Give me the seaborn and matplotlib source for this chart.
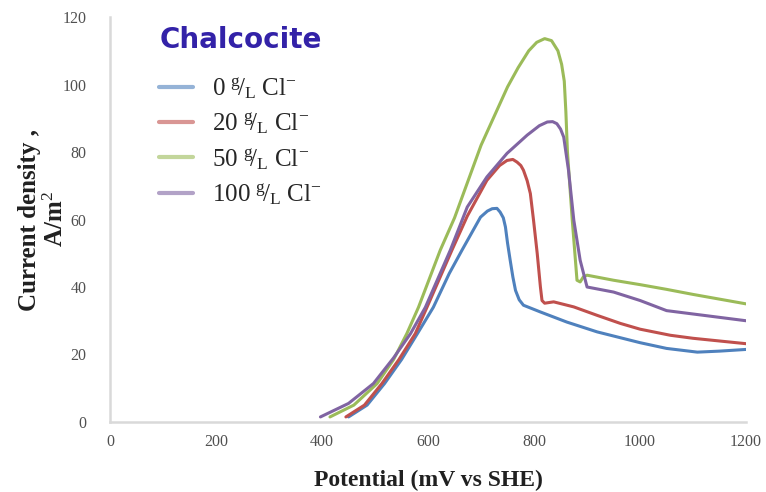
import numpy as np
import pandas as pd
import matplotlib
matplotlib.use("Agg")
import matplotlib.pyplot as plt
import seaborn as sns

labels = [r"0 $^{g}\!/_{L}$ Cl$^{-}$", r"20 $^{g}\!/_{L}$ Cl$^{-}$",
          r"50 $^{g}\!/_{L}$ Cl$^{-}$", r"100 $^{g}\!/_{L}$ Cl$^{-}$"]

x_0 = [450, 485, 518, 550, 580, 610, 640, 664, 699, 712, 721, 730, 736, 742, 746, 750, 755, 760, 765, 772, 780, 812, 862, 919, 1000, 1050, 1108, 1150, 1200]
y_0 = [1.5, 5, 11.4, 18.5, 26.2, 34, 44, 50.9, 60.7, 62.5, 63.2, 63.3, 62.2, 60.5, 57.8, 53, 47.9, 43, 39, 36.2, 34.6, 32.6, 29.6, 26.7, 23.5, 21.8, 20.7, 21, 21.5]

x_20 = [445, 480, 513, 545, 576, 598, 645, 674, 711, 735, 749, 760, 768, 775, 780, 787, 793, 799, 806, 812, 815, 820, 837, 875, 919, 963, 1000, 1057, 1100, 1150, 1200]
y_20 = [1.5, 5, 11.4, 18.5, 26.2, 34, 50.9, 61, 71.6, 76, 77.5, 77.8, 77, 76, 74.6, 71.5, 67.7, 59.8, 49.9, 40, 36, 35.2, 35.6, 34.1, 31.6, 29.2, 27.5, 25.7, 24.8, 24, 23.2]

x_50 = [415, 460, 504, 535, 560, 582, 623, 650, 700, 750, 770, 790, 805, 820, 833, 845, 852, 857, 860, 863, 872, 881, 887, 893, 900, 950, 1000, 1050, 1100, 1150, 1200]
y_50 = [1.5, 5, 11.4, 18.5, 26.2, 34, 50.9, 60.5, 82, 99.3, 105, 110, 112.5, 113.6, 113, 110, 106, 101, 92, 80, 60, 42, 41.5, 43, 43.5, 42, 40.7, 39.3, 37.8, 36.4, 35]

x_100 = [397, 450, 497, 535, 567, 595, 642, 674, 711, 749, 787, 810, 825, 835, 843, 850, 856, 860, 865, 875, 887, 900, 950, 1000, 1050, 1100, 1150, 1200]
y_100 = [1.5, 5.5, 11.4, 19, 26.2, 34, 50.9, 63.7, 72.6, 79.6, 85, 87.8, 88.9, 89, 88.4, 86.8, 84.4, 80, 74.6, 59.8, 47.9, 40, 38.5, 36, 33, 32, 31, 30]

x_ticks = [0, 200, 400, 600, 800, 1000, 1200]
y_ticks = [0, 20, 40, 60, 80, 100, 120]

colors = ["#4F81BD", "#C0504D", "#9BBB59", "#8064A2"]

frames = []
for lab, xs, ys in zip(labels, [x_0, x_20, x_50, x_100], [y_0, y_20, y_50, y_100]):
    frames.append(pd.DataFrame({"x": xs, "y": ys, "series": lab}))
df = pd.concat(frames, ignore_index=True)

sns.set_style("white")
plt.rcParams['font.family'] = ['Liberation Serif', 'DejaVu Serif']
plt.rcParams['mathtext.fontset'] = 'custom'
plt.rcParams['mathtext.rm'] = 'Liberation Serif'
plt.rcParams['mathtext.it'] = 'Liberation Serif'

fig = plt.figure(figsize=(7.66, 4.92), dpi=100)
ax = fig.add_axes([0.1436, 0.1423, 0.8304, 0.8231])

sns.lineplot(data=df, x="x", y="y", hue="series", hue_order=labels,
             palette=colors, linewidth=2.2, ax=ax, sort=False, estimator=None)
for ln in ax.get_lines():
    ln.set_solid_joinstyle('round')

ax.set_xlim(0, 1200)
ax.set_ylim(0, 120)
ax.set_xticks(x_ticks)
ax.set_yticks(y_ticks)
ax.tick_params(axis='both', labelsize=11.5, colors='#D9D9D9', labelcolor='#505050',
               length=5, width=1.5, direction='out')
ax.tick_params(axis='x', pad=4)
ax.tick_params(axis='y', pad=12)
for s in ['top', 'right']:
    ax.spines[s].set_visible(False)
for s in ['left', 'bottom']:
    ax.spines[s].set_color('#D9D9D9')
    ax.spines[s].set_linewidth(1.8)

ax.set_xlabel("Potential (mV vs SHE)", fontsize=17, fontweight='bold', color='#202020', labelpad=14)
ax.set_ylabel("Current density ,\nA/m$^{2}$", fontsize=18, fontweight='bold', color='#202020',
              labelpad=-4, linespacing=1.15)

leg = ax.legend(title="Chalcocite", loc='upper left', bbox_to_anchor=(0.05, 1.02),
                frameon=False, fontsize=18, handlelength=1.35, labelspacing=0.38,
                handletextpad=0.75, borderpad=0.2)
leg.get_title().set_fontsize(20)
leg.get_title().set_color('#3322A8')
leg.get_title().set_fontfamily(['DejaVu Sans'])
leg.get_title().set_fontweight('bold')
leg._legend_box.sep = 15
for line in leg.get_lines():
    line.set_linewidth(3)
    line.set_alpha(0.6)

fig.savefig("out.png", dpi=100)
